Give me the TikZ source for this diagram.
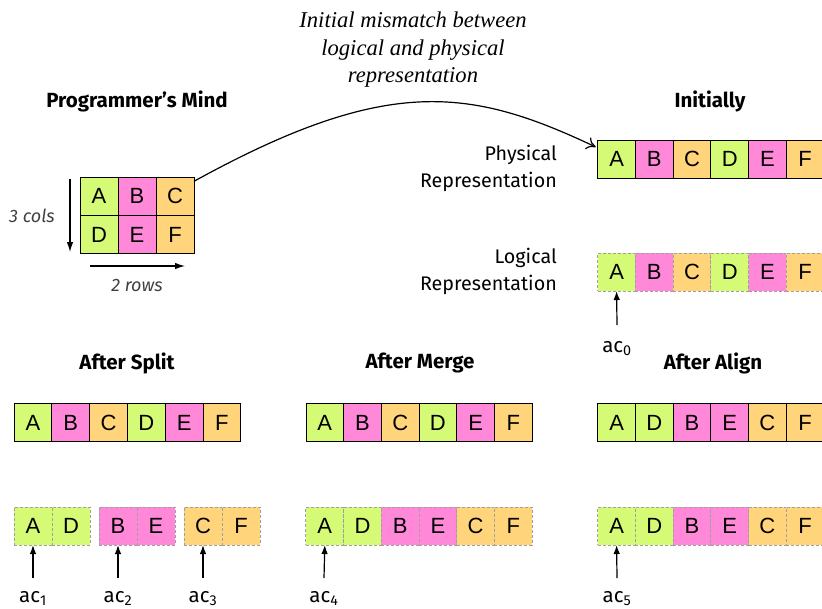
\documentclass[tikz,border=0pt]{standalone}
\usepackage{fontspec}
\setmainfont{Fira Sans}
\newfontfamily\cellfont{Liberation Sans}
\newfontfamily\titlefont{Liberation Serif}
\usetikzlibrary{arrows.meta}
\definecolor{cg}{HTML}{D5FB76}
\definecolor{cp}{HTML}{FF88D9}
\definecolor{co}{HTML}{FFD47A}
\definecolor{dgray}{HTML}{A0A0A0}
\tikzset{
  cell/.style={minimum width=37.7pt, minimum height=38pt, inner sep=0pt, outer sep=0pt,
    draw=black, line width=0.9pt, font=\cellfont\fontsize{22}{26}\selectfont},
  lcell/.style={cell, draw=dgray, line width=1pt, dash pattern=on 3pt off 2pt},
  hdr/.style={font=\bfseries\fontsize{20.5}{24}\selectfont, inner sep=0pt},
  lbl/.style={font=\fontsize{19.7}{27}\selectfont, align=right, inner sep=0pt},
  aclbl/.style={font=\fontsize{20.5}{24}\selectfont, inner sep=0pt, anchor=base},
  ptr/.style={-{Latex[length=9pt,width=6.5pt]}, line width=1.2pt},
}
\begin{document}
\begin{tikzpicture}[x=1pt,y=-1pt]
\useasboundingbox (0,0) rectangle (822,608);
% title
\node[font=\titlefont\itshape\fontsize{22.6}{27.5}\selectfont, align=center, inner sep=0pt] (title) at (413,50)
  {Initial mismatch between\\logical and physical\\representation};
% headers
\node[hdr] (hpm) at (137,101) {Programmer’s Mind};
\node[hdr] (hin) at (710,101) {Initially};
\node[hdr] (hsp) at (127,363) {After Split};
\node[hdr] (hme) at (420,363) {After Merge};
\node[hdr] (hal) at (713,363) {After Align};
% programmer's mind grid
\foreach \l/\c/\x/\y in {A/cg/99/196.3, B/cp/137/196.3, C/co/175/196.3, D/cg/99/234.5, E/cp/137/234.5, F/co/175/234.5}
  \node[cell, minimum width=38pt, fill=\c] (g\l) at (\x,\y) {\l};
\coordinate (dtop) at (70,179);
\coordinate (dbot) at (70,252);
\draw[-{Latex[length=10pt,width=6.5pt]}, line width=1.2pt] (dtop) -- (dbot);
\coordinate (rl) at (90,266);
\coordinate (rr) at (185,266);
\draw[-{Latex[length=10pt,width=6.5pt]}, line width=1.2pt] (rl) -- (rr);
\node[font=\itshape\fontsize{18}{22}\selectfont, text=black!75, inner sep=0pt] (cols) at (32,216) {3 cols};
\node[font=\itshape\fontsize{18}{22}\selectfont, text=black!75, inner sep=0pt] (rows) at (137,285) {2 rows};
% initially rows
\foreach \l/\c [count=\i from 0] in {A/cg,B/cp,C/co,D/cg,E/cp,F/co}
  \node[cell, fill=\c] (ip\l) at (616.6+37.7*\i,159) {\l};
\foreach \l/\c [count=\i from 0] in {A/cg,B/cp,C/co,D/cg,E/cp,F/co}
  \node[lcell, fill=\c] (il\l) at (616.6+37.7*\i,272) {\l};
\node[lbl, anchor=east] (phys) at (557,168.5) {Physical\\Representation};
\node[lbl, anchor=east] (logi) at (557,271.5) {Logical\\Representation};
% curved arrow
\draw[-{To[length=9pt,width=13pt]}, line width=1.2pt] ([yshift=-4pt]gC.north east) .. controls (387,75) and (470,87.5) .. ([xshift=-2pt,yshift=-7pt]ipA.north west);
% ac0
\node[aclbl] (ac0) at (617,352) {ac\textsubscript{0}};
\draw[ptr] (617,325) -- (ilA.south);
% after split
\foreach \l/\c [count=\i from 0] in {A/cg,B/cp,C/co,D/cg,E/cp,F/co}
  \node[cell, fill=\c] (sp\l) at (32.9+37.8*\i,422.5) {\l};
\foreach \l/\c/\x in {A/cg/33, D/cg/71, B/cp/118, E/cp/156, C/co/203, F/co/241}
  \node[lcell, minimum width=38pt, fill=\c] (sl\l) at (\x,526) {\l};
\node[aclbl] (ac1) at (33,602) {ac\textsubscript{1}};
\node[aclbl] (ac2) at (118,602) {ac\textsubscript{2}};
\node[aclbl] (ac3) at (203,602) {ac\textsubscript{3}};
\draw[ptr] (33,578) -- (slA.south);
\draw[ptr] (118,578) -- (slB.south);
\draw[ptr] (203,578) -- (slC.south);
% after merge
\foreach \l/\c [count=\i from 0] in {A/cg,B/cp,C/co,D/cg,E/cp,F/co}
  \node[cell, fill=\c] (mp\l) at (324.8+37.7*\i,422.5) {\l};
\foreach \l/\c [count=\i from 0] in {A/cg,D/cg,B/cp,E/cp,C/co,F/co}
  \node[lcell, fill=\c] (ml\l) at (324.8+37.7*\i,526) {\l};
\node[aclbl] (ac4) at (324,602) {ac\textsubscript{4}};
\draw[ptr] (324,578) -- (mlA.south);
% after align
\foreach \l/\c [count=\i from 0] in {A/cg,D/cg,B/cp,E/cp,C/co,F/co}
  \node[cell, fill=\c] (ap\l) at (616.6+37.7*\i,422.5) {\l};
\foreach \l/\c [count=\i from 0] in {A/cg,D/cg,B/cp,E/cp,C/co,F/co}
  \node[lcell, fill=\c] (al\l) at (616.6+37.7*\i,526) {\l};
\node[aclbl] (ac5) at (617,602) {ac\textsubscript{5}};
\draw[ptr] (617,578) -- (alA.south);
\end{tikzpicture}
\end{document}
